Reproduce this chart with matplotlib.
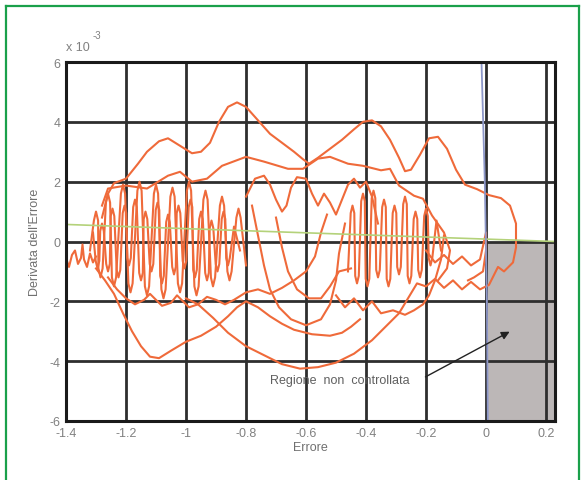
import matplotlib
matplotlib.use("Agg")
import matplotlib.pyplot as plt
from matplotlib.lines import Line2D

plt.rcParams["font.family"] = ["Liberation Sans", "DejaVu Sans"]
plt.rcParams["axes.unicode_minus"] = False

# tick values / labels (y values in units of 1e-3)
x_ticks = [-1.4, -1.2, -1.0, -0.8, -0.6, -0.4, -0.2, 0.0, 0.2]
x_tick_labels = ["-1.4", "-1.2", "-1", "-0.8", "-0.6", "-0.4", "-0.2", "0", "0.2"]
y_ticks = [-6, -4, -2, 0, 2, 4, 6]
y_tick_labels = ["-6", "-4", "-2", "0", "2", "4", "6"]

# outer loop of the phase trajectory
outer_x = [-1.28, -1.26, -1.24, -1.20, -1.16, -1.13, -1.09, -1.06, -1.02, -0.98, -0.95,
           -0.92, -0.89, -0.86, -0.83, -0.80, -0.76, -0.72, -0.68, -0.64, -0.61, -0.59,
           -0.56, -0.52, -0.48, -0.44, -0.41, -0.38, -0.35, -0.32, -0.29, -0.27, -0.25,
           -0.22, -0.19, -0.16, -0.13, -0.10, -0.07, -0.03, 0.01, 0.05, 0.08, 0.10, 0.10,
           0.09, 0.06, 0.04, 0.01, -0.02, -0.05, -0.08, -0.11, -0.14, -0.17, -0.20, -0.23,
           -0.26, -0.29, -0.33, -0.38, -0.44, -0.50, -0.56, -0.62, -0.68, -0.74, -0.80,
           -0.86, -0.91, -0.96, -1.00]
outer_y = [0.8, 1.6, 1.95, 2.1, 2.6, 3.0, 3.35, 3.45, 3.2, 2.95, 3.0,
           3.3, 4.0, 4.5, 4.65, 4.5, 4.05, 3.6, 3.3, 3.0, 2.75, 2.6,
           2.8, 3.1, 3.4, 3.75, 4.0, 4.05, 3.85, 3.4, 2.8, 2.35, 2.4,
           2.9, 3.45, 3.5, 3.1, 2.4, 1.9, 1.75, 1.55, 1.45, 1.2, 0.6, -0.2,
           -0.7, -1.0, -0.85, -1.45, -1.6, -1.35, -1.6, -1.3, -1.55, -1.25, -1.5, -1.4,
           -1.9, -2.4, -2.8, -3.3, -3.75, -4.05, -4.2, -4.25, -4.1, -3.8, -3.5,
           -3.05, -2.55, -2.1, -1.9]

# lower left loop
low_x = [-1.30, -1.27, -1.24, -1.21, -1.18, -1.15, -1.12, -1.09, -1.05, -1.00, -0.95,
         -0.90, -0.86, -0.83, -0.80, -0.76, -0.72, -0.68, -0.64, -0.58, -0.52, -0.48,
         -0.45, -0.42]
low_y = [-0.9, -1.3, -1.75, -2.4, -3.0, -3.5, -3.85, -3.9, -3.65, -3.35, -3.15,
         -2.85, -2.5, -2.2, -2.0, -2.2, -2.5, -2.75, -2.95, -3.1, -3.15, -3.05,
         -2.85, -2.6]

# upper inner arc
upper_x = [-1.28, -1.26, -1.20, -1.13, -1.06, -1.02, -0.98, -0.93, -0.88, -0.80, -0.74,
           -0.66, -0.61, -0.56, -0.52, -0.46, -0.41, -0.35, -0.32, -0.29, -0.24, -0.21,
           -0.18, -0.14, -0.12, -0.13, -0.16]
upper_y = [1.2, 1.77, 1.87, 1.77, 2.2, 2.33, 2.0, 2.1, 2.53, 2.83, 2.67,
           2.43, 2.43, 2.77, 2.83, 2.6, 2.53, 2.38, 2.43, 1.87, 1.53, 1.43,
           0.87, 0.3, -0.3, -0.9, -1.3]

# middle curve with dips
mid_x = [-0.80, -0.77, -0.74, -0.72, -0.70, -0.68, -0.665, -0.65, -0.63, -0.60, -0.58,
         -0.56, -0.54, -0.52, -0.50, -0.48, -0.46, -0.44, -0.42, -0.40, -0.38, -0.36]
mid_y = [1.5, 2.1, 2.2, 1.9, 1.4, 1.0, 1.2, 1.8, 2.15, 2.1, 1.6,
         1.2, 1.6, 1.3, 0.9, 1.4, 1.9, 2.1, 1.8, 2.0, 1.5, 0.6]

# fast oscillations, left part
zig1_x = [-1.32,
          -1.307, -1.30, -1.293, -1.292, -1.285, -1.278, -1.267, -1.26, -1.253,
          -1.247, -1.24, -1.233, -1.217, -1.21, -1.203, -1.192, -1.185, -1.178,
          -1.162, -1.155, -1.148, -1.137, -1.13, -1.123, -1.107, -1.10, -1.093,
          -1.082, -1.075, -1.068, -1.052, -1.045, -1.038, -1.027, -1.02, -1.013,
          -0.997, -0.99, -0.983, -0.972, -0.965, -0.958, -0.942, -0.935, -0.928,
          -0.917, -0.91, -0.903, -0.887, -0.88, -0.873, -0.862, -0.855, -0.848,
          -0.832, -0.825, -0.818, -0.80]
zig1_y = [-0.3,
          0.7, 1.0, 0.7, -0.9, -1.2, -0.9, 1.3, 1.6, 1.3,
          -1.2, -1.5, -1.2, 1.6, 1.9, 1.6, -1.4, -1.7, -1.4,
          1.7, 2.0, 1.7, -1.5, -1.8, -1.5, 1.6, 1.9, 1.6,
          -1.6, -1.9, -1.6, 1.5, 1.8, 1.5, -1.4, -1.7, -1.4,
          1.7, 2.0, 1.7, -1.5, -1.8, -1.5, 1.4, 1.7, 1.4,
          -1.2, -1.5, -1.2, 1.2, 1.5, 1.2, -1.0, -1.3, -1.0,
          0.8, 1.1, 0.8, -0.8]

zig2_x = [-1.31,
          -1.301, -1.295, -1.289, -1.286, -1.28, -1.274, -1.266, -1.26, -1.254,
          -1.251, -1.245, -1.239, -1.231, -1.225, -1.219, -1.211, -1.205, -1.199,
          -1.196, -1.19, -1.184, -1.176, -1.17, -1.164, -1.156, -1.15, -1.144,
          -1.141, -1.135, -1.129, -1.121, -1.115, -1.109, -1.101, -1.095, -1.089,
          -1.086, -1.08, -1.074, -1.066, -1.06, -1.054, -1.046, -1.04, -1.034,
          -1.031, -1.025, -1.019, -1.011, -1.005, -0.999, -0.991, -0.985, -0.979,
          -0.976, -0.97, -0.964, -0.956, -0.95, -0.944, -0.936, -0.93, -0.924,
          -0.921, -0.915, -0.909, -0.901, -0.895, -0.889, -0.881, -0.875, -0.869,
          -0.866, -0.86, -0.854, -0.84, -0.82]
zig2_y = [0.3,
          -0.65, -0.9, -0.65, 0.35, 0.6, 0.35, -0.75, -1.0, -0.75,
          0.85, 1.1, 0.85, -0.95, -1.2, -0.95, 0.95, 1.2, 0.95,
          -0.55, -0.8, -0.55, 1.15, 1.4, 1.15, -1.05, -1.3, -1.05,
          0.75, 1.0, 0.75, -0.75, -1.0, -0.75, 1.05, 1.3, 1.05,
          -1.15, -1.4, -1.15, 0.65, 0.9, 0.65, -0.85, -1.1, -0.85,
          0.95, 1.2, 0.95, -0.65, -0.9, -0.65, 1.15, 1.4, 1.15,
          -0.95, -1.2, -0.95, 0.75, 1.0, 0.75, -1.05, -1.3, -1.05,
          0.45, 0.7, 0.45, -0.75, -1.0, -0.75, 0.75, 1.0, 0.75,
          -0.55, -0.8, -0.55, 0.5, -0.3]

# small wiggles below the left tangle
wig_x = [-1.26, -1.23, -1.20, -1.17, -1.14, -1.12, -1.10, -1.08, -1.05, -1.03, -1.01,
         -0.99, -0.96, -0.93, -0.90, -0.87, -0.84, -0.80, -0.76, -0.72, -0.68, -0.64,
         -0.60, -0.57, -0.55, -0.53]
wig_y = [-1.2, -1.6, -1.9, -2.1, -1.95, -1.75, -1.95, -2.15, -2.05, -1.8, -2.0,
         -2.2, -2.1, -1.85, -1.95, -2.1, -1.95, -1.7, -1.6, -1.75, -1.55, -1.3,
         -1.0, -0.5, 0.3, 0.9]

# left tail
tail_x = [-1.40, -1.39, -1.38, -1.37, -1.36, -1.35, -1.345, -1.34, -1.33, -1.32, -1.31, -1.30]
tail_y = [-0.55, -0.85, -0.45, -0.3, -0.75, -0.55, -0.1, -0.6, -0.85, -0.4, -0.7, -0.5]

# fast oscillations, right part
zig3_x = [-0.46,
          -0.451, -0.445, -0.439, -0.436, -0.43, -0.424, -0.416, -0.41, -0.404,
          -0.401, -0.395, -0.389, -0.381, -0.375, -0.369, -0.366, -0.36, -0.354,
          -0.346, -0.34, -0.334, -0.331, -0.325, -0.319, -0.311, -0.305, -0.299,
          -0.296, -0.29, -0.284, -0.276, -0.27, -0.264, -0.261, -0.255, -0.249,
          -0.241, -0.235, -0.229, -0.226, -0.22, -0.214, -0.206, -0.20, -0.194,
          -0.191, -0.185, -0.179, -0.165, -0.15]
zig3_y = [-1.0,
          0.95, 1.2, 0.95, -1.15, -1.4, -1.15, 1.35, 1.6, 1.35,
          -1.25, -1.5, -1.25, 1.45, 1.7, 1.45, -0.95, -1.2, -0.95,
          1.15, 1.4, 1.15, -1.25, -1.5, -1.25, 0.95, 1.2, 0.95,
          -0.85, -1.1, -0.85, 1.25, 1.5, 1.25, -1.15, -1.4, -1.15,
          0.75, 1.0, 0.75, -0.95, -1.2, -0.95, 0.85, 1.1, 0.85,
          -0.55, -0.8, -0.55, 0.7, -0.3]

wave_x = [-0.50, -0.47, -0.44, -0.41, -0.38, -0.35, -0.31, -0.27, -0.24, -0.21, -0.19,
          -0.17, -0.15, -0.14]
wave_y = [-1.8, -2.2, -1.9, -2.3, -2.0, -2.4, -2.3, -2.45, -2.3, -2.1, -1.8,
          -1.3, -0.6, 0.2]

dip1_x = [-0.78, -0.76, -0.74, -0.72, -0.69, -0.65, -0.60, -0.55, -0.52, -0.50, -0.49, -0.47]
dip1_y = [1.2, 0.2, -0.8, -1.6, -2.2, -2.6, -2.8, -2.6, -2.1, -1.3, -0.4, 0.6]

dip2_x = [-0.70, -0.68, -0.66, -0.63, -0.59, -0.55, -0.52, -0.49, -0.45]
dip2_y = [0.8, -0.2, -1.0, -1.6, -1.9, -1.9, -1.5, -1.0, -0.9]

edge_x = [-0.20, -0.17, -0.14, -0.11, -0.08, -0.05, -0.02, 0.0, 0.0, -0.01, -0.04, -0.06]
edge_y = [-0.3, -0.7, -0.45, -0.75, -0.5, -0.8, -0.6, 0.3, -0.3, -1.0, -1.2, -1.3]

# straight lines and the uncontrolled region
blue_x = [-0.015, -0.004, 0.003, 0.006]
blue_y = [6, 2, -2, -6]
green_x = [-1.4, 0.23]
green_y = [0.57, 0.0]
region_x = [0.0, 0.23]
region_top = [0.0, 0.0]
region_bottom = [-6, -6]

orange = "#ef6a3a"
strokes = [
    (outer_x, outer_y), (low_x, low_y), (upper_x, upper_y), (mid_x, mid_y),
    (zig1_x, zig1_y), (zig2_x, zig2_y), (wig_x, wig_y), (tail_x, tail_y),
    (zig3_x, zig3_y), (wave_x, wave_y), (dip1_x, dip1_y), (dip2_x, dip2_y),
    (edge_x, edge_y),
]

fig = plt.figure(figsize=(5.85, 4.81), dpi=100)
fig.patch.set_facecolor("white")

# green frame around the figure
frame_color = "#1aa04a"
fig.add_artist(Line2D([6 / 585, 6 / 585], [0, 1 - 7 / 481], color=frame_color, lw=1.6,
                      transform=fig.transFigure))
fig.add_artist(Line2D([6 / 585, 579 / 585], [1 - 7 / 481, 1 - 7 / 481], color=frame_color,
                      lw=1.6, transform=fig.transFigure))
fig.add_artist(Line2D([579 / 585, 579 / 585], [0, 1 - 7 / 481], color=frame_color, lw=1.6,
                      transform=fig.transFigure))

ax = fig.add_axes([66 / 585, 59 / 481, 489 / 585, 359 / 481])

ax.fill_between(region_x, region_bottom, region_top, color="#bcb7b7", lw=0, zorder=0.5)

for xs, ys in strokes:
    ax.plot(xs, ys, color=orange, lw=1.5, solid_joinstyle="round", zorder=2)

ax.plot(green_x, green_y, color="#b4d27a", lw=1.2, zorder=2.5)
ax.plot(blue_x, blue_y, color="#8d97c9", lw=1.3, zorder=2.5)

ax.set_xlim(-1.4, 0.23)
ax.set_ylim(-6, 6)
ax.set_xticks(x_ticks)
ax.set_xticklabels(x_tick_labels)
ax.set_yticks(y_ticks)
ax.set_yticklabels(y_tick_labels)
ax.tick_params(length=0, labelsize=9, labelcolor="#808080", pad=4)
ax.grid(True, color="#2e2e2e", lw=2.0, zorder=1)
for sp in ax.spines.values():
    sp.set_linewidth(2.2)
    sp.set_color("#1a1a1a")

ax.set_xlabel("Errore", fontsize=9, color="#707070", labelpad=2)
ax.set_ylabel("Derivata dell'Errore", fontsize=9, color="#707070", labelpad=6)

ax.text(0.0, 1.025, "x 10", transform=ax.transAxes, fontsize=9, color="#808080",
        ha="left", va="bottom")
ax.text(0.055, 1.06, "-3", transform=ax.transAxes, fontsize=7, color="#808080",
        ha="left", va="bottom")

ax.text(-0.72, -4.63, "Regione  non  controllata", fontsize=9, color="#606060",
        ha="left", va="center", zorder=3)
ax.annotate("", xy=(0.087, -2.97), xytext=(-0.21, -4.57),
            arrowprops=dict(arrowstyle="-|>", color="#222222", lw=1.0, mutation_scale=12),
            zorder=4)

fig.savefig("out.png", dpi=100)
